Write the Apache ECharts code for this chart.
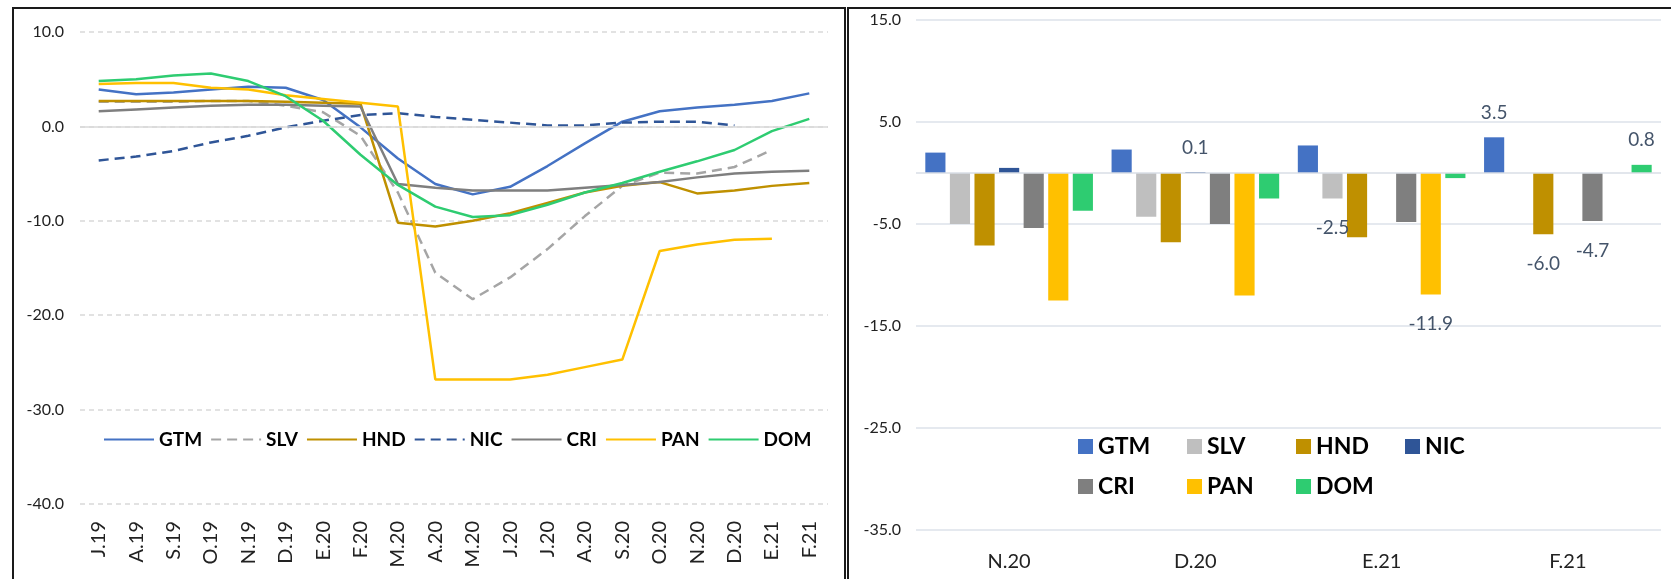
<!DOCTYPE html>
<html>
<head>
<meta charset="utf-8">
<script src="https://cdn.jsdelivr.net/npm/echarts@6/dist/echarts.min.js"></script>
<style>
html,body{margin:0;padding:0;background:#fff;}
body{width:1671px;height:579px;position:relative;overflow:hidden;}
#lineChart{position:absolute;left:0;top:0;width:846px;height:579px;}
#barChart{position:absolute;left:848px;top:0;width:823px;height:579px;}
.frame{position:absolute;border:0 solid #1a1a1a;pointer-events:none;}
</style>
</head>
<body>
<div id="lineChart"></div>
<div id="barChart"></div>
<div class="frame" style="left:12px;top:7px;width:830px;height:640px;border-width:2px 2px 0 2px;"></div>
<div class="frame" style="left:847px;top:7px;width:900px;height:640px;border-width:2px 0 0 2px;"></div>
<script>
// meses (serie mensual)
var months = ['J.19','A.19','S.19','O.19','N.19','D.19','E.20','F.20','M.20','A.20',
              'M.20','J.20','J.20','A.20','S.20','O.20','N.20','D.20','E.21','F.21'];

// valores por pais
var gtm = [3.9, 3.4, 3.6, 3.9, 4.2, 4.1, 2.8, -0.1, -3.4, -6.1, -7.2, -6.4, -4.2, -1.8, 0.5, 1.6, 2.0, 2.3, 2.7, 3.5];
var slv = [2.6, 2.6, 2.6, 2.7, 2.7, 2.2, 1.5, -1.0, -7.0, -15.5, -18.3, -16.0, -13.0, -9.5, -6.3, -4.9, -5.0, -4.3, -2.5, null];
var hnd = [2.7, 2.7, 2.7, 2.7, 2.7, 2.6, 2.5, 2.4, -10.2, -10.6, -10.0, -9.2, -8.1, -7.0, -6.3, -5.9, -7.1, -6.8, -6.3, -6.0];
var nic = [-3.6, -3.2, -2.6, -1.7, -1.0, -0.1, 0.6, 1.2, 1.4, 1.0, 0.7, 0.4, 0.1, 0.1, 0.4, 0.5, 0.5, 0.1, null, null];
var cri = [1.6, 1.8, 2.0, 2.2, 2.3, 2.3, 2.2, 2.1, -6.1, -6.5, -6.8, -6.8, -6.8, -6.5, -6.2, -5.9, -5.4, -5.0, -4.8, -4.7];
var pan = [4.5, 4.6, 4.6, 4.1, 3.9, 3.3, 2.9, 2.5, 2.1, -26.8, -26.8, -26.8, -26.3, -25.5, -24.7, -13.2, -12.5, -12.0, -11.9, null];
var dom = [4.8, 5.0, 5.4, 5.6, 4.8, 3.2, 0.6, -3.0, -6.2, -8.5, -9.6, -9.4, -8.3, -7.0, -6.0, -4.8, -3.7, -2.5, -0.5, 0.8];

var names = ['GTM', 'SLV', 'HND', 'NIC', 'CRI', 'PAN', 'DOM'];
var seriesValues = [gtm, slv, hnd, nic, cri, pan, dom];

// ultimos 4 meses para las barras
var barStart = 16;
var barMonths = months.slice(barStart);

// ejes
var lineAxisMin = -40, lineAxisMax = 10, lineAxisStep = 10;
var barAxisMin = -35, barAxisMax = 15, barAxisStep = 10;

var lineColors = ['#4472C4', '#A5A5A5', '#BF9000', '#2F5597', '#7F7F7F', '#FFC000', '#2ECC71'];
var barColors = ['#4472C4', '#BFBFBF', '#BF9000', '#2F5597', '#7F7F7F', '#FFC000', '#2ECC71'];
var dashed = [false, true, false, true, false, false, false];

var font = 'Lato, "Open Sans", sans-serif';

//grafico de lineas
function initLineChart(){
    var myChart = echarts.init(document.getElementById('lineChart'));
    var seriesArr = [];
    names.forEach(function(n, i){
        seriesArr.push({
            name: n,
            type: 'line',
            data: seriesValues[i],
            symbol: 'none',
            showSymbol: false,
            lineStyle: {width: 2.5, color: lineColors[i], type: dashed[i] ? [10, 6] : 'solid'},
            itemStyle: {color: lineColors[i]}
        });
    });
    // linea del cero
    seriesArr[0].markLine = {
        silent: true, symbol: 'none', label: {show: false},
        lineStyle: {color: '#D9D9D9', type: 'solid', width: 1.5},
        data: [{yAxis: 0}]
    };
    var option = {
        animation: false,
        textStyle: {fontFamily: font},
        grid: {left: 80, top: 32, width: 748, height: 472, outerBoundsMode: 'none'},
        legend: {
            left: 98, top: 425,
            itemWidth: 50, itemHeight: 14, itemGap: 8,
            itemStyle: {opacity: 0},
            textStyle: {fontSize: 19, fontWeight: 'bold', color: '#000', fontFamily: font},
            data: names
        },
        xAxis: {
            type: 'category',
            data: months,
            boundaryGap: true,
            axisLine: {show: false},
            axisTick: {show: false},
            axisLabel: {rotate: 90, interval: 0, margin: 17, fontSize: 20, color: '#222', fontFamily: font}
        },
        yAxis: {
            type: 'value',
            min: lineAxisMin, max: lineAxisMax, interval: lineAxisStep,
            axisLine: {show: false},
            axisTick: {show: false},
            axisLabel: {margin: 16, fontSize: 16, color: '#222', fontFamily: font,
                formatter: function(v){ return v.toFixed(1); }},
            splitLine: {lineStyle: {color: '#D9D9D9', type: [5, 4], width: 1.5}}
        },
        series: seriesArr
    };
    myChart.setOption(option);
}

//grafico de barras
function initBarChart(){
    var myChart2 = echarts.init(document.getElementById('barChart'));
    var seriesArr = [];
    names.forEach(function(n, i){
        var vals = seriesValues[i];
        var last = -1;
        vals.forEach(function(v, k){ if (v !== null) last = k; });
        var data = vals.slice(barStart).map(function(v, k){
            if (v === null) return null;
            if (k + barStart === last) {
                // solo el ultimo dato lleva etiqueta
                return {value: v, label: {show: true, position: v < 0 ? 'bottom' : 'top', distance: v < 0 ? 20 : 15}};
            }
            return v;
        });
        seriesArr.push({
            name: n,
            type: 'bar',
            data: data,
            barGap: '22%',
            barCategoryGap: '10%',
            itemStyle: {color: barColors[i]},
            label: {
                show: false, position: 'outside', distance: 15,
                color: '#44546A', fontSize: 19, fontFamily: font,
                formatter: function(p){ return p.value.toFixed(1); }
            }
        });
    });
    seriesArr[0].markLine = {
        silent: true, symbol: 'none', label: {show: false},
        lineStyle: {color: '#D9DEE6', type: 'solid', width: 1.5},
        data: [{yAxis: 0}]
    };
    var option2 = {
        animation: false,
        textStyle: {fontFamily: font},
        grid: {left: 68, top: 20, width: 745, height: 510, outerBoundsMode: 'none'},
        legend: {
            left: 225, top: 426, width: 440,
            icon: 'rect', itemWidth: 15, itemHeight: 15, itemGap: 9,
            textStyle: {fontSize: 23, fontWeight: 'bold', color: '#000', width: 80, lineHeight: 31, fontFamily: font},
            data: names
        },
        xAxis: {
            type: 'category',
            data: barMonths,
            axisLine: {show: false},
            axisTick: {show: false},
            axisLabel: {margin: 22, fontSize: 20, color: '#222', fontFamily: font}
        },
        yAxis: {
            type: 'value',
            min: barAxisMin, max: barAxisMax, interval: barAxisStep,
            axisLine: {show: false},
            axisTick: {show: false},
            axisLabel: {margin: 15, fontSize: 16, color: '#222', fontFamily: font,
                formatter: function(v){ return v.toFixed(1); }},
            splitLine: {lineStyle: {color: '#DDE2EA', type: 'solid', width: 1.5}}
        },
        series: seriesArr
    };
    myChart2.setOption(option2);
}

initLineChart();
initBarChart();
</script>
</body>
</html>
